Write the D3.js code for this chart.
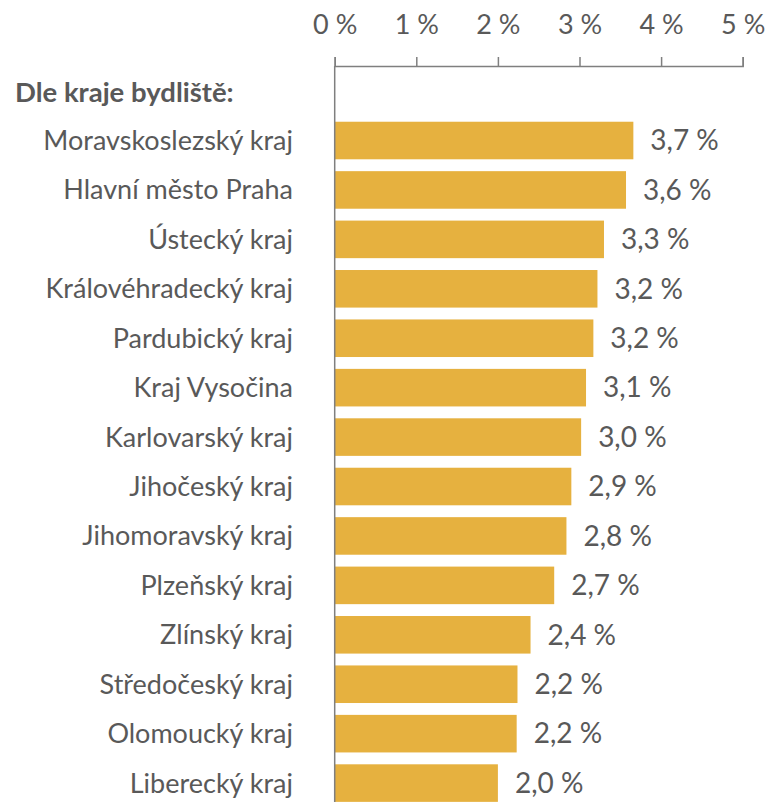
<!DOCTYPE html>
<html>
<head>
<meta charset="utf-8">
<script src="https://cdn.jsdelivr.net/npm/d3@7"></script>
<style>
  body { margin: 0; background: #fff; }
  svg text { font-family: Lato, "Open Sans", sans-serif; fill: #595959; }
</style>
</head>
<body>
<div id="chart"></div>
<script>
// regions, sorted by share
const regions = [
  'Moravskoslezský kraj', 'Hlavní město Praha', 'Ústecký kraj', 'Královéhradecký kraj',
  'Pardubický kraj', 'Kraj Vysočina', 'Karlovarský kraj', 'Jihočeský kraj',
  'Jihomoravský kraj', 'Plzeňský kraj', 'Zlínský kraj', 'Středočeský kraj',
  'Olomoucký kraj', 'Liberecký kraj'
];
const shares = [3.66, 3.57, 3.30, 3.22, 3.17, 3.08, 3.02, 2.90, 2.84, 2.69, 2.40, 2.24, 2.23, 2.00];
const ticks = [0, 1, 2, 3, 4, 5];
const heading = 'Dle kraje bydliště:';

const width = 769;
const height = 802;

const svg = d3.select('#chart').append('svg')
  .attr('width', width)
  .attr('height', height);

const x = d3.scaleLinear().domain([0, 5]).range([334.7, 742.7]);
const y = d3.scaleBand().domain(regions).range([115.8, 807.8])
  .paddingInner(0.24).paddingOuter(0.12);

const fmt = v => d3.format('.1f')(v).replace('.', ',') + ' %';

// top axis
const axis = svg.append('g')
  .attr('transform', 'translate(0,66)')
  .call(d3.axisTop(x).tickValues(ticks).tickSize(9).tickFormat(d => d + ' %'));
axis.select('.domain').attr('stroke', '#7f7f7f').attr('stroke-width', 1.5);
axis.selectAll('.tick line').attr('stroke', '#7f7f7f').attr('stroke-width', 1.5);
axis.selectAll('.tick text')
  .attr('y', -32)
  .style('font-size', '27px')
  .attr('fill', '#595959');

// bars
svg.append('g').selectAll('rect')
  .data(regions)
  .join('rect')
    .attr('x', x(0))
    .attr('y', d => y(d))
    .attr('width', (d, i) => x(shares[i]) - x(0))
    .attr('height', y.bandwidth())
    .attr('fill', '#e6b13f');

// vertical axis line
svg.append('line')
  .attr('x1', x(0)).attr('x2', x(0))
  .attr('y1', 66).attr('y2', height)
  .attr('stroke', '#7f7f7f')
  .attr('stroke-width', 1.5);

// category labels
svg.append('g').selectAll('text')
  .data(regions)
  .join('text')
    .attr('x', 293)
    .attr('y', d => y(d) + y.bandwidth() / 2)
    .attr('dy', '0.35em')
    .attr('text-anchor', 'end')
    .style('font-size', '27px')
    .text(d => d);

// value labels
svg.append('g').selectAll('text')
  .data(regions)
  .join('text')
    .attr('x', (d, i) => x(shares[i]) + 17)
    .attr('y', d => y(d) + y.bandwidth() / 2)
    .attr('dy', '0.35em')
    .style('font-size', '28px')
    .text((d, i) => fmt(shares[i]));

svg.append('text')
  .attr('x', 15)
  .attr('y', 92)
  .attr('dy', '0.35em')
  .style('font-size', '27.5px')
  .style('font-weight', 'bold')
  .text(heading);
</script>
</body>
</html>
